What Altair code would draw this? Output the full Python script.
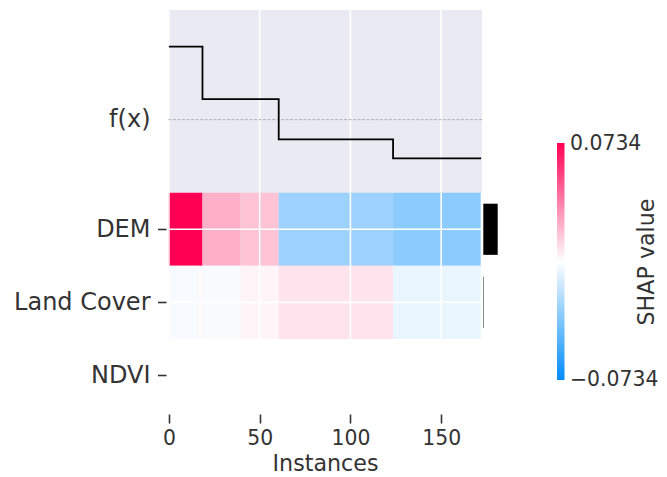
import altair as alt
import pandas as pd

# ---------------- data ----------------
features = ["DEM", "Land Cover", "NDVI"]
n_instances = 173
vmax = 0.0734

# heatmap segments (instance edges) and SHAP values per feature
dem_edges = [-0.5, 18.5, 39.5, 60.5, 123.5, 172.5]
dem_vals = [0.0734, 0.0227, 0.0173, -0.0285, -0.0332]
lc_edges = [-0.5, 16.5, 18.5, 39.5, 60.5, 123.5, 172.5]
lc_vals = [-0.0023, 0.0012, -0.0020, 0.0029, 0.0078, -0.0060]
ndvi_edges = [-0.5, 172.5]
ndvi_vals = [0.0]

# f(x) line (normalised model output), step positions
fx_x = [0, 18.5, 60.5, 123.5, 172]
fx_norm = [1.0, 0.28, -0.27, -0.53, -0.53]
fx_label = "f(x)"
fx_pos = -1.5

# mean |SHAP| per feature (right-hand bars)
importance = [0.040, 0.0042, 0.0]

x_ticks = [0, 50, 100, 150]
legend_values = [vmax, -vmax]
cbar_title = ["SHAP value"]
x_title = "Instances"

FONT = "DejaVu Sans"
TXT = "#333333"

# ---------------- tables ----------------
rows = []
for idx, (edges, vals) in enumerate([(dem_edges, dem_vals), (lc_edges, lc_vals), (ndvi_edges, ndvi_vals)]):
    for i, v in enumerate(vals):
        rows.append({"feature": features[idx], "row": idx, "x0": edges[i], "x1": edges[i + 1], "v": v})
cells = pd.DataFrame(rows)

fx_df = pd.DataFrame({"x0": fx_x, "fx": fx_norm})
imp_max = max(importance)
bars = pd.DataFrame({
    "row": list(range(len(features))),
    "x0": [n_instances - 0.5] * len(features),
    "x1": [n_instances - 0.5 + (v / imp_max) * n_instances / 20 for v in importance],
})
xt = pd.DataFrame({"x0": x_ticks})
yt = pd.DataFrame({"y0": list(range(len(features) - 1))})

x_scale = alt.Scale(domain=[-0.5, n_instances - 0.5], nice=False, zero=False)
y_scale = alt.Scale(domain=[-3, len(features) - 0.5], reverse=True, nice=False, zero=False)

label_expr = "datum.value == %s ? '%s' : " % (fx_pos, fx_label) + " : ".join(
    ["datum.value == %d ? '%s'" % (i, f) for i, f in enumerate(features)]
) + " : ''"

x_axis = alt.Axis(
    values=x_ticks, title=x_title, grid=False, domain=False, offset=2,
    tickSize=9, tickWidth=1.6, tickColor=TXT, labelFontSize=20.4, labelColor=TXT,
    labelFont=FONT, labelPadding=5.5, titleFont=FONT, titleFontSize=22.2,
    titleFontWeight="normal", titleColor=TXT, titlePadding=4, labelFlush=False)
y_axis = alt.Axis(
    values=[fx_pos] + list(range(len(features))), labelExpr=label_expr, title=None,
    grid=False, domain=False, offset=2, tickSize=8.5, tickWidth=1.6,
    tickColor={"condition": {"test": "datum.value == %s" % fx_pos, "value": "transparent"}, "value": TXT},
    labelFontSize=24, labelColor=TXT, labelFont=FONT, labelPadding=7.5)

heat = alt.Chart(cells).transform_calculate(
    y0="datum.row - 0.5", y1="datum.row + 0.5"
).mark_rect(strokeWidth=0).encode(
    x=alt.X("x0:Q", scale=x_scale, axis=x_axis),
    x2="x1:Q",
    y=alt.Y("y0:Q", scale=y_scale, axis=y_axis),
    y2="y1:Q",
    color=alt.Color("v:Q", scale=alt.Scale(
        domain=[-vmax, 0, vmax], range=["#008bfb", "#ffffff", "#ff0052"], interpolate="rgb"),
        legend=alt.Legend(orient="none", legendX=389, legendY=133, title=None, direction="vertical",
                          gradientLength=237, gradientThickness=7.5, gradientStrokeWidth=0,
                          labelExpr="''", labelOpacity=0, values=legend_values, padding=0)),
)

vgrid = alt.Chart(xt).mark_rule(color="white", strokeWidth=1.6).encode(
    x=alt.X("x0:Q", scale=x_scale, axis=x_axis))
hgrid = alt.Chart(yt).mark_rule(color="white", strokeWidth=1.6).encode(
    y=alt.Y("y0:Q", scale=y_scale, axis=y_axis))

base_line = alt.Chart(pd.DataFrame({"y0": [fx_pos]})).mark_rule(
    color="#aaaaaa", strokeWidth=0.9, strokeDash=[3, 1.5]).encode(
    y=alt.Y("y0:Q", scale=y_scale, axis=y_axis))

fx_line = alt.Chart(fx_df).transform_calculate(
    y0="-datum.fx + %s" % fx_pos
).mark_line(color="black", strokeWidth=1.8, interpolate="step-after").encode(
    x=alt.X("x0:Q", scale=x_scale, axis=x_axis),
    y=alt.Y("y0:Q", scale=y_scale, axis=y_axis))

bar_layer = alt.Chart(bars).transform_calculate(
    y0="datum.row - 0.35", y1="datum.row + 0.35"
).mark_rect(color="black", strokeWidth=0).encode(
    x=alt.X("x0:Q", scale=x_scale, axis=x_axis), x2="x1:Q",
    y=alt.Y("y0:Q", scale=y_scale, axis=y_axis), y2="y1:Q")

spine = alt.Chart(pd.DataFrame({"x0": [n_instances - 0.5], "y0": [-0.5], "y1": [len(features) - 0.5]})).mark_rule(
    color="white", strokeWidth=2.6).encode(
    x=alt.X("x0:Q", scale=x_scale, axis=x_axis),
    y=alt.Y("y0:Q", scale=y_scale, axis=y_axis), y2="y1:Q")

cbar_text = alt.Chart(pd.DataFrame({"t": cbar_title})).mark_text(
    angle=270, fontSize=22.2, font=FONT, color=TXT, align="center", baseline="alphabetic").encode(
    text="t:N", x=alt.value(486), y=alt.value(252))

cbar_fmt = [("%.4f" % v).replace("-", "\u2212") for v in legend_values]
cbar_top = alt.Chart(pd.DataFrame({"t": [cbar_fmt[0]]})).mark_text(
    fontSize=20.4, font=FONT, color=TXT, align="left", baseline="middle").encode(
    text="t:N", x=alt.value(402), y=alt.value(134))
cbar_bot = alt.Chart(pd.DataFrame({"t": [cbar_fmt[1]]})).mark_text(
    fontSize=20.4, font=FONT, color=TXT, align="left", baseline="middle").encode(
    text="t:N", x=alt.value(402), y=alt.value(370))

chart = alt.layer(heat, vgrid, hgrid, base_line, fx_line, bar_layer, spine,
                  cbar_text, cbar_top, cbar_bot).properties(
    width=314, height=402,
    autosize=alt.AutoSizeParams(type="none"),
    padding={"left": 160, "top": 2, "right": 177, "bottom": 65},
    background="white",
).configure_view(fill="#EAEAF2", stroke=None)

chart.save("out.html", embed_options={"renderer": "svg", "actions": False})
